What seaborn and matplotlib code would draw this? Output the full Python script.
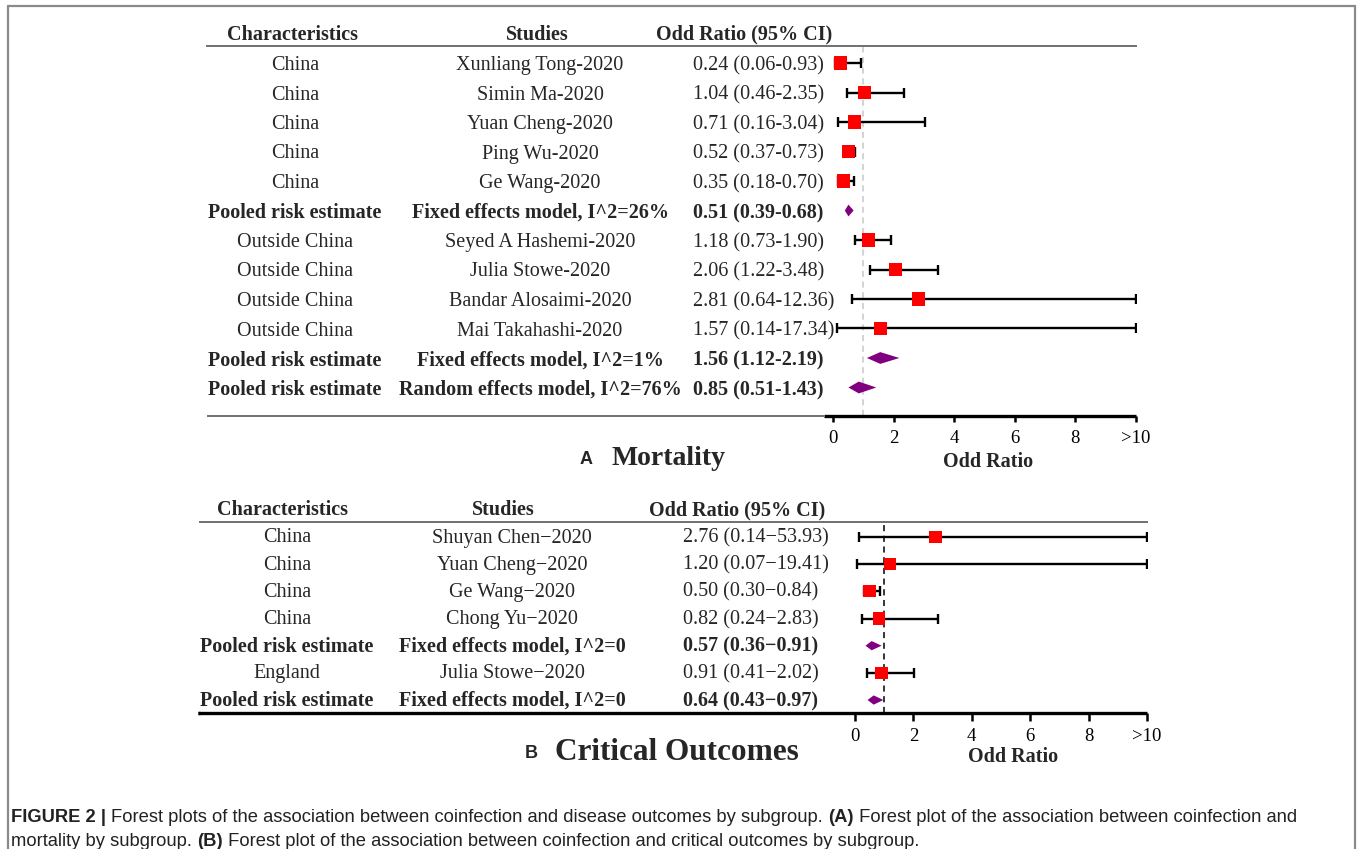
import numpy as np
import pandas as pd
import seaborn as sns
import matplotlib
matplotlib.use("Agg")
import matplotlib.pyplot as plt
from matplotlib.lines import Line2D
from matplotlib.transforms import blended_transform_factory

# ---------------- data ----------------
a_char = ["China"] * 5 + ["Pooled risk estimate"] + ["Outside China"] * 4 + ["Pooled risk estimate"] * 2
a_study = ["Xunliang Tong-2020", "Simin Ma-2020", "Yuan Cheng-2020", "Ping Wu-2020", "Ge Wang-2020",
           "Fixed effects model, I^2=26%", "Seyed A Hashemi-2020", "Julia Stowe-2020",
           "Bandar Alosaimi-2020", "Mai Takahashi-2020",
           "Fixed effects model, I^2=1%", "Random effects model, I^2=76%"]
a_or = [0.24, 1.04, 0.71, 0.52, 0.35, 0.51, 1.18, 2.06, 2.81, 1.57, 1.56, 0.85]
a_lo = [0.06, 0.46, 0.16, 0.37, 0.18, 0.39, 0.73, 1.22, 0.64, 0.14, 1.12, 0.51]
a_hi = [0.93, 2.35, 3.04, 0.73, 0.70, 0.68, 1.90, 3.48, 12.36, 17.34, 2.19, 1.43]
a_pooled = [False] * 5 + [True] + [False] * 4 + [True, True]

b_char = ["China"] * 4 + ["Pooled risk estimate", "England", "Pooled risk estimate"]
b_study = ["Shuyan Chen\u22122020", "Yuan Cheng\u22122020", "Ge Wang\u22122020", "Chong Yu\u22122020",
           "Fixed effects model, I^2=0", "Julia Stowe\u22122020", "Fixed effects model, I^2=0"]
b_or = [2.76, 1.20, 0.50, 0.82, 0.57, 0.91, 0.64]
b_lo = [0.14, 0.07, 0.30, 0.24, 0.36, 0.41, 0.43]
b_hi = [53.93, 19.41, 0.84, 2.83, 0.91, 2.02, 0.97]
b_pooled = [False] * 4 + [True, False, True]

headers = ["Characteristics", "Studies", "Odd Ratio (95% CI)"]
x_ticks = [0, 2, 4, 6, 8, 10]
x_ticklabels = ["0", "2", "4", "6", "8", ">10"]
x_cap = 10
x_ref = 1

# ---------------- style ----------------
sns.set_style("white")
SERIF = "Liberation Serif"
SANS = "Liberation Sans"
plt.rcParams["font.family"] = [SERIF, "DejaVu Serif"]

W, H = 1357, 849
fig = plt.figure(figsize=(W / 100, H / 100), dpi=100)
fig.patch.set_facecolor("white")


def fx(px):
    return px / W


def fy(py):
    return 1 - py / H


def panel(char, study, orv, lo, hi, pooled, dash, lay):
    left, right, top, bottom = lay["left"], lay["right"], lay["top"], lay["bottom"]
    ax = fig.add_axes([fx(left), fy(bottom), (right - left) / W, (bottom - top) / H])
    unit = (lay["x10"] - lay["x0"]) / 10.0
    xmin = -(lay["x0"] - left) / unit
    ax.set_xlim(xmin, (right - lay["x0"]) / unit)
    step = lay["step"]
    ybot = (bottom - lay["row0"]) / step
    ax.set_ylim(ybot, (top - lay["row0"]) / step)

    n = len(orv)
    rows = np.arange(n)
    df = pd.DataFrame({"row": rows, "or": orv, "lo": lo,
                       "hi": np.minimum(hi, x_cap), "pooled": pooled})
    st = df[~df["pooled"]]
    pl = df[df["pooled"]]

    ax.axvline(x_ref, ls=(0, (4, 3)), color=dash, lw=1.1, zorder=1)
    ax.errorbar(st["or"], st["row"], xerr=[st["or"] - st["lo"], st["hi"] - st["or"]],
                fmt="none", ecolor="black", elinewidth=1.7, capsize=3.4, capthick=1.7, zorder=2)
    sns.scatterplot(data=st, x="or", y="row", marker="s", color="#ff0000", s=lay["ms"],
                    edgecolor="none", ax=ax, zorder=3, legend=False)
    hh = lay["dh"]
    for _, r in pl.iterrows():
        ax.fill([r["lo"], r["or"], r["hi"], r["or"]],
                [r["row"], r["row"] - hh, r["row"], r["row"] + hh],
                color="#800080", lw=0, zorder=3)

    for s in ["left", "right", "bottom"]:
        ax.spines[s].set_visible(False)
    ax.spines["top"].set_color("#707070")
    ax.spines["top"].set_linewidth(1.4)
    # bottom rule: thin grey across the table, thick black under the scale
    ax.plot([xmin, lay["black_from"]], [ybot, ybot], color=lay["rule_left"],
            lw=lay["rule_left_lw"], clip_on=False, zorder=4, solid_capstyle="butt")
    ax.plot([lay["black_from"], x_cap], [ybot, ybot], color="black", lw=2.4,
            clip_on=False, zorder=4, solid_capstyle="butt")
    ax.set_xticks(x_ticks)
    ax.set_xticklabels(x_ticklabels, fontsize=13.5, family=SERIF)
    ax.set_yticks([])
    ax.set_xlabel("")
    ax.set_ylabel("")
    ax.tick_params(axis="x", bottom=True, direction="out", length=lay["tl"], width=1.8,
                   pad=lay["pad"], colors="black")

    tr = blended_transform_factory(fig.transFigure, ax.transData)
    off = lay["toff"] / step
    hy = (lay["header"] - lay["row0"]) / step + off
    for txt, xp in zip(headers, lay["hx"]):
        ax.text(fx(xp), hy, txt, transform=tr, ha="center", va="center",
                fontsize=14.5, fontweight="bold", clip_on=False)
    for i in range(n):
        w = "bold" if pooled[i] else "normal"
        ax.text(fx(lay["cx"]), i + off, char[i], transform=tr, ha="center", va="center",
                fontsize=14.5, fontweight=w, clip_on=False)
        ax.text(fx(lay["sx"]), i + off, study[i], transform=tr, ha="center", va="center",
                fontsize=14.5, fontweight=w, clip_on=False)
        lab = f"{orv[i]:.2f} ({lo[i]:.2f}{lay['dash']}{hi[i]:.2f})"
        ax.text(fx(lay["ox"]), i + off, lab, transform=tr, ha="left", va="center",
                fontsize=14.5, fontweight=w, clip_on=False)
    return ax


layA = dict(left=207, right=1136, top=46, bottom=416, x0=833, x10=1136,
            row0=63, step=29.5, header=32, hx=[293, 537, 744],
            cx=295, sx=540, ox=693, dash="-", ms=90, dh=0.2, toff=2.5,
            tl=4, pad=6, black_from=-0.3, rule_left="#707070", rule_left_lw=1.4)
layB = dict(left=200, right=1147, top=522, bottom=713, x0=855, x10=1147,
            row0=537, step=27.17, header=509, hx=[282, 503, 737],
            cx=287, sx=512, ox=683, dash="\u2212", ms=78, dh=0.17, toff=1.0,
            tl=6, pad=4.5, black_from=-22.5, rule_left="black", rule_left_lw=2.4)

panel(a_char, a_study, a_or, a_lo, a_hi, a_pooled, "#c8c8c8", layA)
panel(b_char, b_study, b_or, b_lo, b_hi, b_pooled, "black", layB)

# axis labels and panel titles
fig.text(fx(988), fy(462), "Odd Ratio", ha="center", va="center", fontsize=14.5, fontweight="bold")
fig.text(fx(1013), fy(757), "Odd Ratio", ha="center", va="center", fontsize=14.5, fontweight="bold")
fig.text(fx(586), fy(460), "A", ha="center", va="center", fontsize=13, fontweight="bold", family=SANS)
fig.text(fx(612), fy(459), "Mortality", ha="left", va="center", fontsize=20, fontweight="bold")
fig.text(fx(531), fy(753), "B", ha="center", va="center", fontsize=13, fontweight="bold", family=SANS)
fig.text(fx(555), fy(752), "Critical Outcomes", ha="left", va="center", fontsize=22.5, fontweight="bold")

# frame
fig.add_artist(Line2D([fx(8), fx(8)], [fy(860), fy(6)], color="#8a8a8a", lw=1.6))
fig.add_artist(Line2D([fx(8), fx(1355)], [fy(6), fy(6)], color="#8a8a8a", lw=1.6))
fig.add_artist(Line2D([fx(1355), fx(1355)], [fy(6), fy(860)], color="#8a8a8a", lw=1.6))

# caption with mixed bold runs
renderer = fig.canvas.get_renderer()
cap_lines = [
    [("FIGURE 2 | ", "bold"),
     ("Forest plots of the association between coinfection and disease outcomes by subgroup. ", "normal"),
     ("(A)", "bold"),
     (" Forest plot of the association between coinfection and", "normal")],
    [("mortality by subgroup. ", "normal"), ("(B)", "bold"),
     (" Forest plot of the association between coinfection and critical outcomes by subgroup.", "normal")],
]
for line, ypx in zip(cap_lines, [817, 841]):
    xpx = 11
    for txt, w in line:
        t = fig.text(fx(xpx), fy(ypx), txt, ha="left", va="center", fontsize=13.2,
                     fontweight=w, family=SANS, color="#222222")
        bb = t.get_window_extent(renderer=renderer)
        xpx += bb.width

fig.savefig("out.png", dpi=100, facecolor="white")
